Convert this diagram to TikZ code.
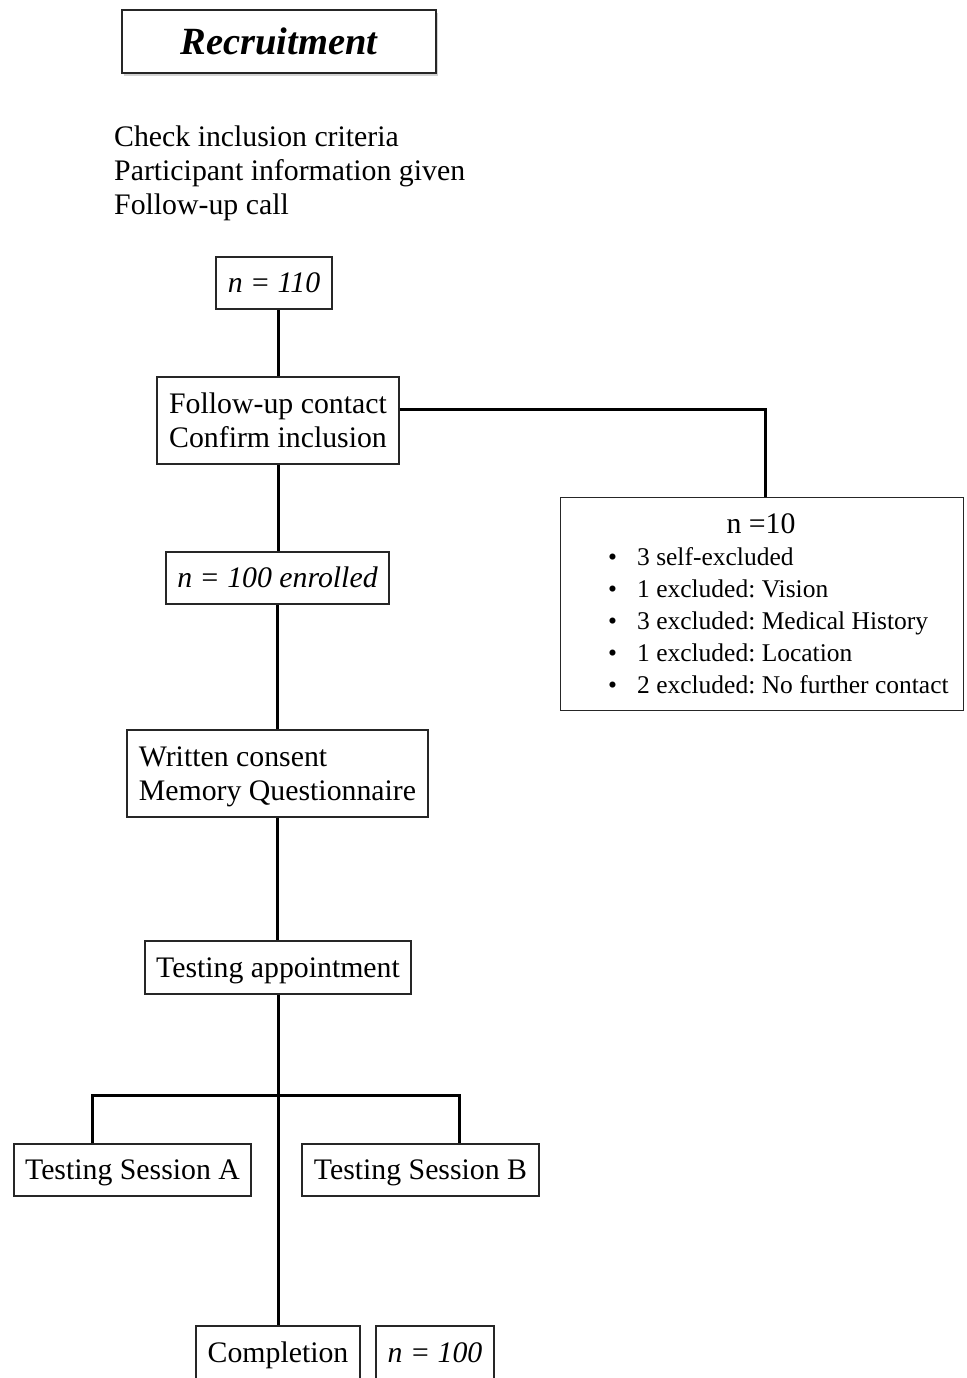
\documentclass[tikz,border=0pt]{standalone}
\usepackage{fontspec}
\setmainfont{Liberation Serif}
\usetikzlibrary{shadows}
\frenchspacing

\begin{document}
\begin{tikzpicture}[x=1pt,y=-1pt,
  every node/.style={font=\fontsize{29.8}{34}\selectfont},
  frame/.style={draw=black!85, line width=1.3pt, fill=white, inner sep=0pt},
  oneline/.style={frame, text height=26.8pt, text depth=7.2pt},
  twoline/.style={frame, align=left, text depth=-5pt},
  conn/.style={line width=3pt, black},
]
\clip (0,0) rectangle (966,1378);
\fill[white] (0,0) rectangle (966,1378);

% title
\node[frame, line width=2.5pt, minimum width=314, minimum height=63,
      drop shadow={shadow xshift=2pt, shadow yshift=-3pt, opacity=0.35},
      font=\fontsize{38.5}{40}\selectfont\bfseries\itshape] (recruit) at (279,41.5) {Recruitment};

% recruitment steps
\node[anchor=west, inner sep=0pt, align=left] (steps) at (114,173.5)
  {Check inclusion criteria\\Participant information given\\Follow-up call};

% main chain
\node[oneline, minimum width=116, minimum height=52] (n110) at (274,283) {\itshape n = 110};
\node[twoline, minimum width=242, minimum height=87] (follow) at (278,420.5)
  {Follow-up contact\\Confirm inclusion};
\node[oneline, minimum width=223, minimum height=52] (enrol) at (277.5,578) {\itshape n = 100 enrolled};
\node[twoline, minimum width=301, minimum height=87] (consent) at (277.5,773.5)
  {Written consent\\Memory Questionnaire};
\node[oneline, minimum width=266, minimum height=53] (appt) at (278,967.5) {Testing appointment};
\node[oneline, minimum width=237, minimum height=52] (sesA) at (132.5,1170) {Testing Session A};
\node[oneline, minimum width=237, minimum height=52] (sesB) at (420.5,1170) {Testing Session B};
\node[oneline, minimum width=164, minimum height=54] (comp) at (278,1353) {Completion};
\node[oneline, minimum width=118, minimum height=54] (n100) at (435,1353) {\itshape n = 100};

% exclusions
\node[frame, minimum width=403, minimum height=213, anchor=north west] (excl) at (560,497) {};
\node[inner sep=0pt] (excltitle) at (761,524) {n =10};
\node[anchor=north west, inner sep=0pt, font=\fontsize{25.5}{32}\selectfont] (excllist) at (608,543)
  {\begin{tabular}{@{}l@{\hspace{20pt}}l@{}}
   \textbullet & 3 self-excluded\\
   \textbullet & 1 excluded: Vision\\
   \textbullet & 3 excluded: Medical History\\
   \textbullet & 1 excluded: Location\\
   \textbullet & 2 excluded: No further contact
   \end{tabular}};

% connectors
\coordinate (bar) at (277,1095);
\draw[conn] (follow.north) -- (follow.north |- n110.south);
\draw[conn] (follow.south) -- (follow.south |- enrol.north);
\draw[conn] (enrol.south) -- (enrol.south |- consent.north);
\draw[conn] (consent.south) -- (consent.south |- appt.north);
\draw[conn] (appt.south) -- (comp.north);
\draw[conn] ([yshift=11pt]follow.east) -| ([xshift=3.5pt]excl.north);
\draw[conn] ([xshift=-40pt]sesA.north) |- (bar) -| ([xshift=38.5pt]sesB.north);
\end{tikzpicture}
\end{document}
